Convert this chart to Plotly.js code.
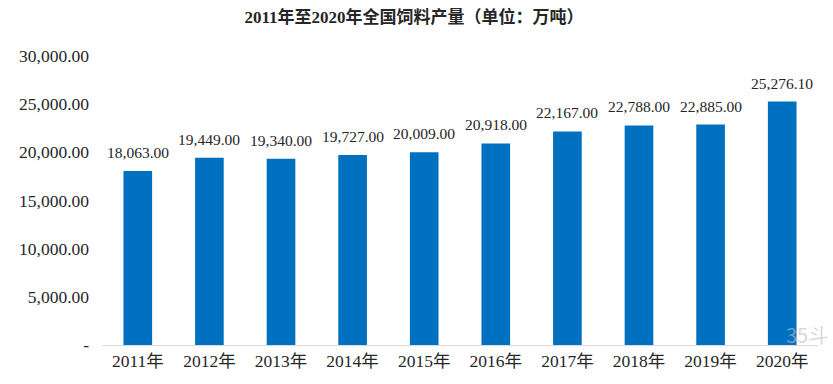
<!DOCTYPE html>
<html>
<head>
<meta charset="utf-8">
<script src="https://cdn.plot.ly/plotly-3.0.1.min.js"></script>
<style>html,body{margin:0;padding:0;background:#fff;}#chart{width:833px;height:384px;}</style>
</head>
<body>
<div id="chart"></div>
<script>
const years = ["2011年","2012年","2013年","2014年","2015年","2016年","2017年","2018年","2019年","2020年"];
const output = [18063.00, 19449.00, 19340.00, 19727.00, 20009.00, 20918.00, 22167.00, 22788.00, 22885.00, 25276.10];
const yTickVals = [0, 5000, 10000, 15000, 20000, 25000, 30000];
const yTickText = ["-", "5,000.00", "10,000.00", "15,000.00", "20,000.00", "25,000.00", "30,000.00"];
const titleText = "2011年至2020年全国饲料产量（单位：万吨）";

const serif = '"Liberation Serif", "Noto Sans CJK SC", serif';
const txtColor = '#262626';

const fmt = v => v.toLocaleString('en-US', {minimumFractionDigits: 2, maximumFractionDigits: 2});

const trace = {
  type: 'bar',
  x: years,
  y: output,
  marker: {color: '#0070C0'},
  hoverinfo: 'none'
};

const labelAnns = years.map((yr, i) => ({
  x: yr, y: output[i], xref: 'x', yref: 'y',
  text: fmt(output[i]), showarrow: false,
  yanchor: 'bottom', yshift: 8,
  font: {family: serif, size: 15.5, color: txtColor}
}));

const layout = {
  width: 833, height: 384,
  margin: {l: 102, r: 15, t: 56, b: 39},
  paper_bgcolor: '#fff', plot_bgcolor: '#fff',
  bargap: 0.6,
  showlegend: false,
  title: {text: '<b>' + titleText + '</b>', x: 0.497, xanchor: 'center', y: 0.955, yanchor: 'middle',
          font: {family: serif, size: 17, color: txtColor}},
  xaxis: {
    type: 'category',
    showline: true, linecolor: '#d9d9d9', linewidth: 1,
    ticks: '', showgrid: false, zeroline: false,
    tickfont: {family: serif, size: 17.5, color: txtColor}
  },
  yaxis: {
    range: [0, 30000],
    tickvals: yTickVals, ticktext: yTickText,
    showgrid: false, zeroline: false, showline: false, ticks: '',
    ticklabelstandoff: 12,
    tickfont: {family: serif, size: 17.5, color: txtColor}
  },
  annotations: labelAnns.concat([{
    text: '35斗', xref: 'paper', yref: 'paper', x: 0.985, y: 0.035, xanchor: 'center', yanchor: 'middle',
    showarrow: false, font: {family: '"Noto Sans CJK SC", sans-serif', size: 20, color: 'rgba(190,190,190,0.6)'}
  }])
};

Plotly.newPlot('chart', [trace], layout, {staticPlot: true, displayModeBar: false});
</script>
</body>
</html>
